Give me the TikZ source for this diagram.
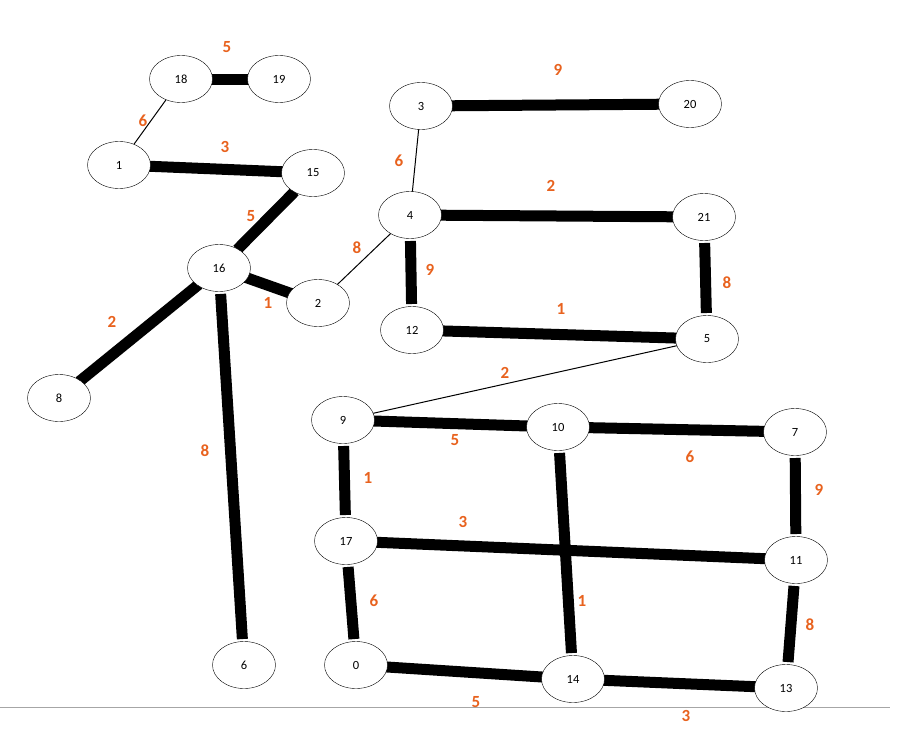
\documentclass[tikz,border=0pt]{standalone}
\usepackage{fontspec}
\setmainfont{Carlito}
\usetikzlibrary{shapes.geometric}
\definecolor{wtc}{RGB}{232,98,30}
\begin{document}
\begin{tikzpicture}[x=1pt,y=-1pt,
  nd/.style={draw,ellipse,minimum width=63pt,minimum height=47pt,inner sep=0pt,font=\fontsize{12.5}{13}\selectfont,fill=white},
  thk/.style={line width=11pt},
  thn/.style={line width=1pt},
  wt/.style={text=wtc,font=\fontsize{17}{18}\selectfont\bfseries}]
\useasboundingbox (0,0) rectangle (909,736);
\draw[gray!70,line width=1pt] (0,707) -- (890,707);
\foreach \n/\x/\y in {18/181/79,19/279/79,1/119/165,15/313/173,3/421/106,20/690/104,4/410/215,21/704/217,16/219/268,2/318/303,12/412/330,5/707/339,8/59/398,9/343/420,10/558/427,7/795/432,17/346/541,11/796/560,6/244/665,0/356/665,14/573/679,13/786/688}
  \coordinate (c\n) at (\x,\y);
\begin{scope}
\foreach \a/\b in {18/19,1/15,3/20,4/21,4/12,15/16,16/2,16/8,16/6,12/5,21/5,9/10,10/7,9/17,17/11,7/11,10/14,17/0,0/14,14/13,11/13}
  \draw[thk,shorten <=26pt,shorten >=26pt] (c\a) -- (c\b);
\foreach \a/\b in {18/1,3/4,4/2,5/9}
  \draw[thn,shorten <=20pt,shorten >=20pt] (c\a) -- (c\b);
\end{scope}
\foreach \n in {18,19,1,15,3,20,4,21,16,2,12,5,8,9,10,7,17,11,6,0,14,13}
  \node[nd] (n\n) at (c\n) {\n};
\foreach \t/\x/\y in {5/227/47,6/143/121,3/225/147,9/558/70,6/399/161,2/551/186,5/251/216,8/357/248,9/430/270,8/727/283,1/268/303,1/561/309,2/112/322,2/505/373,5/455/440,8/205/451,6/690/457,9/819/490,1/368/478,3/463/522,6/374/601,1/582/601,8/810/625,5/476/702,3/686/716}
  \node[wt] at (\x,\y) {\t};
\end{tikzpicture}
\end{document}
